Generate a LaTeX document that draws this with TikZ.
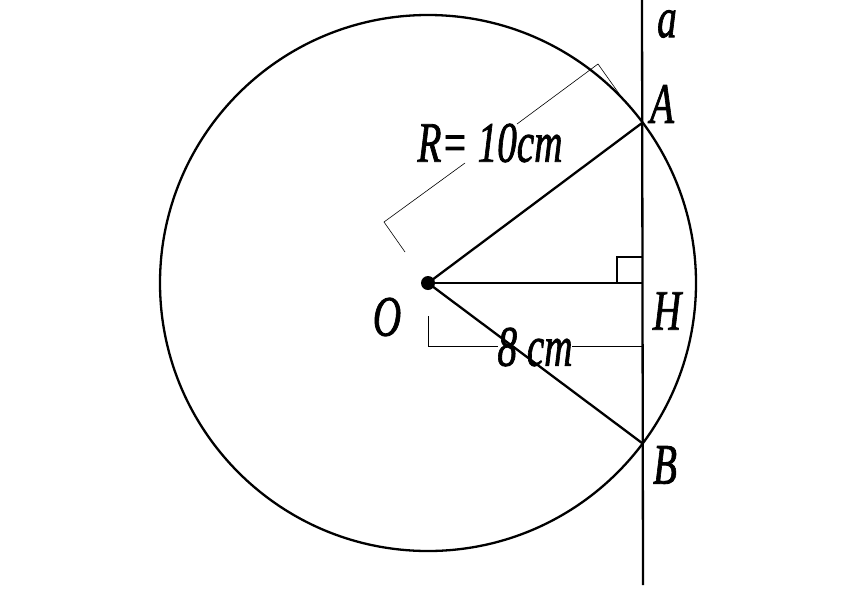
\documentclass[tikz,border=0pt]{standalone}
\usepackage{fontspec}
\setmainfont[ItalicFeatures={FakeBold=1.6}]{Liberation Serif}
\tikzset{thickline/.style={line width=2.3pt,black},thinline/.style={line width=0.6pt,black},
  lbl/.style={font=\itshape\fontsize{44}{44}\selectfont,inner sep=0pt,yscale=1.3,xscale=0.89}}
\begin{document}
\begin{tikzpicture}[x=1pt,y=-1pt]
	\useasboundingbox (0,0) rectangle (842,595);
	% points
	\coordinate (O) at (428,283);
	\coordinate (A) at (642,123);
	\coordinate (B) at (642,443);
	\coordinate (H) at (642,283);
	\coordinate (top) at (642,0);
	\coordinate (bot) at (643,585);
	% circle and line
	\draw[thickline] (O) circle[radius=268];
	\draw[thickline] (top) -- (bot);
	\draw[thickline] (A) -- (O) -- (B);
	\draw[thickline] (O) -- (H);
	\fill (O) circle[radius=7];
	% right angle
	\draw[thickline,line width=1.6pt] (617,283) -- (617,257) -- (642,257);
	% dimension lines
	\draw[thinline] (405,252) -- (384,222) -- (465,163);
	\draw[thinline] (517,124) -- (598,64) -- (620,95);
	\draw[thinline,line width=0.9pt] (428,316) -- (428,346) -- (498,346);
	\draw[thinline,line width=0.9pt] (572,346) -- (642,346);
	% labels
	\node[lbl] (la) at (667,24) {a};
	\node[lbl] (lA) at (662,104) {A};
	\node[lbl] (lH) at (667,311) {H};
	\node[lbl] (lB) at (665,465) {B};
	\node[lbl] (lO) at (387,317) {O};
	\node[lbl] (lR) at (490,143) {R= 10cm};
	\node[lbl] (ld) at (535,347) {8 cm};
\end{tikzpicture}
\end{document}
